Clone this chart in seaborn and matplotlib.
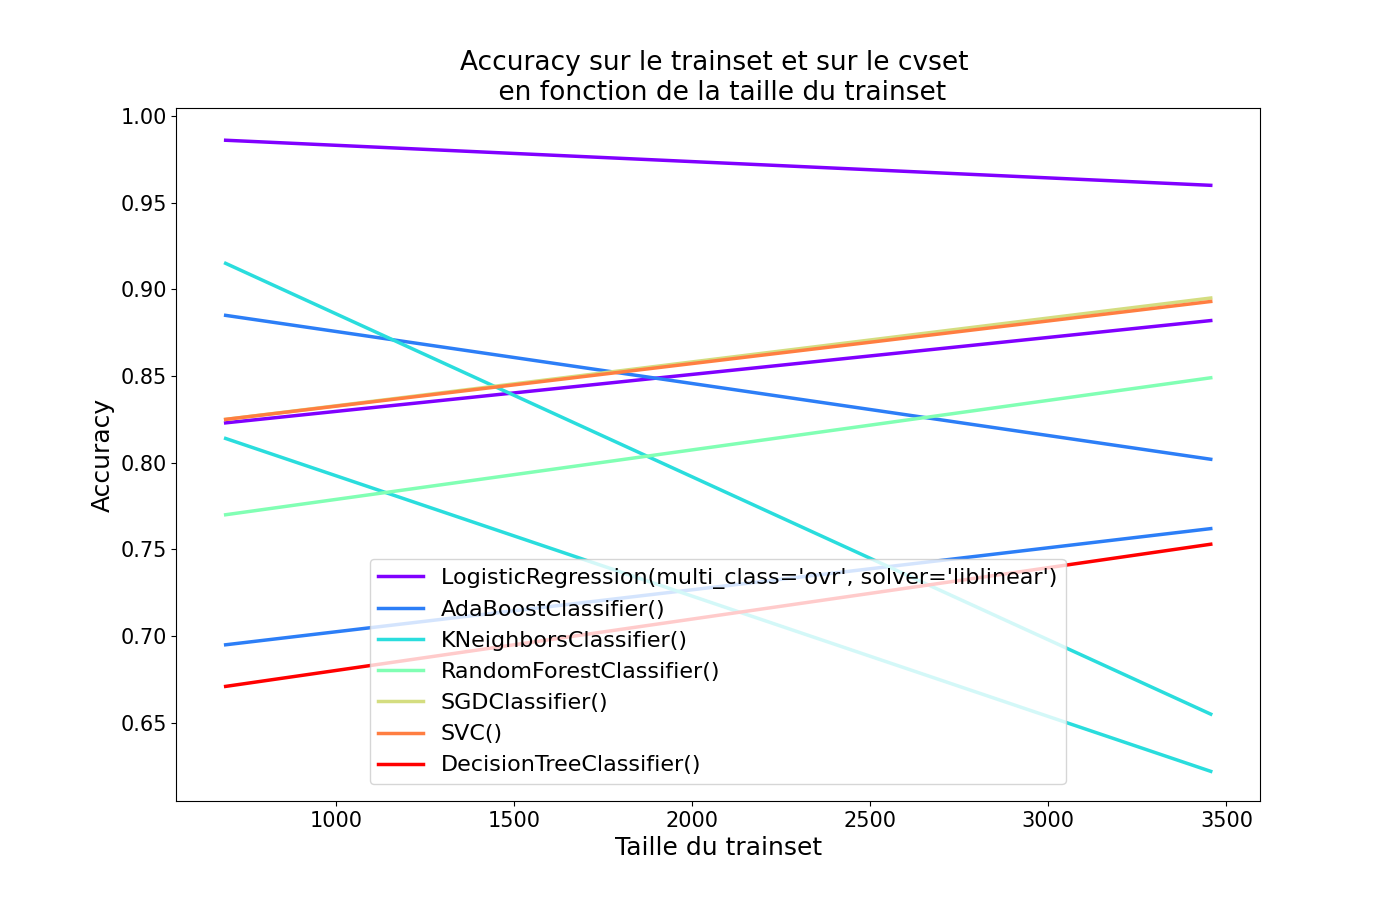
import numpy as np
import pandas as pd
import matplotlib
matplotlib.use("Agg")
import matplotlib.pyplot as plt
import seaborn as sns

sizes = [691, 3456]
models = ["LogisticRegression(multi_class='ovr', solver='liblinear')",
          "AdaBoostClassifier()", "KNeighborsClassifier()",
          "RandomForestClassifier()", "SGDClassifier()", "SVC()",
          "DecisionTreeClassifier()"]
train_acc = {
    models[0]: [0.986, 0.960],
    models[1]: [0.885, 0.802],
    models[2]: [0.915, 0.655],
}
cv_acc = {
    models[0]: [0.823, 0.882],
    models[1]: [0.695, 0.762],
    models[2]: [0.814, 0.622],
    models[3]: [0.770, 0.849],
    models[4]: [0.825, 0.895],
    models[5]: [0.825, 0.893],
    models[6]: [0.671, 0.753],
}

colors = plt.cm.rainbow(np.linspace(0, 1, len(models)))

fig, ax = plt.subplots(figsize=(14, 9), dpi=100)
fig.subplots_adjust(left=0.126, right=0.9, top=0.88, bottom=0.11)

for m, c in zip(models, colors):
    first = True
    for src in (train_acc, cv_acc):
        if m in src:
            df = pd.DataFrame({"size": sizes, "acc": src[m]})
            sns.lineplot(data=df, x="size", y="acc", color=c, linewidth=2.5,
                         ax=ax, label=m if first else None)
            first = False

ax.set_title("Accuracy sur le trainset et sur le cvset \n en fonction de la taille du trainset",
             fontsize=19)
ax.set_xlabel("Taille du trainset", fontsize=18)
ax.set_ylabel("Accuracy", fontsize=18)
ax.tick_params(labelsize=15)
ax.set_yticks([0.65, 0.70, 0.75, 0.80, 0.85, 0.90, 0.95, 1.00])
ax.set_ylim(0.6049, 1.0046)
ax.legend(fontsize=16, loc="lower left", bbox_to_anchor=(0.168, 0.008))

plt.savefig("out.png", dpi=100)
